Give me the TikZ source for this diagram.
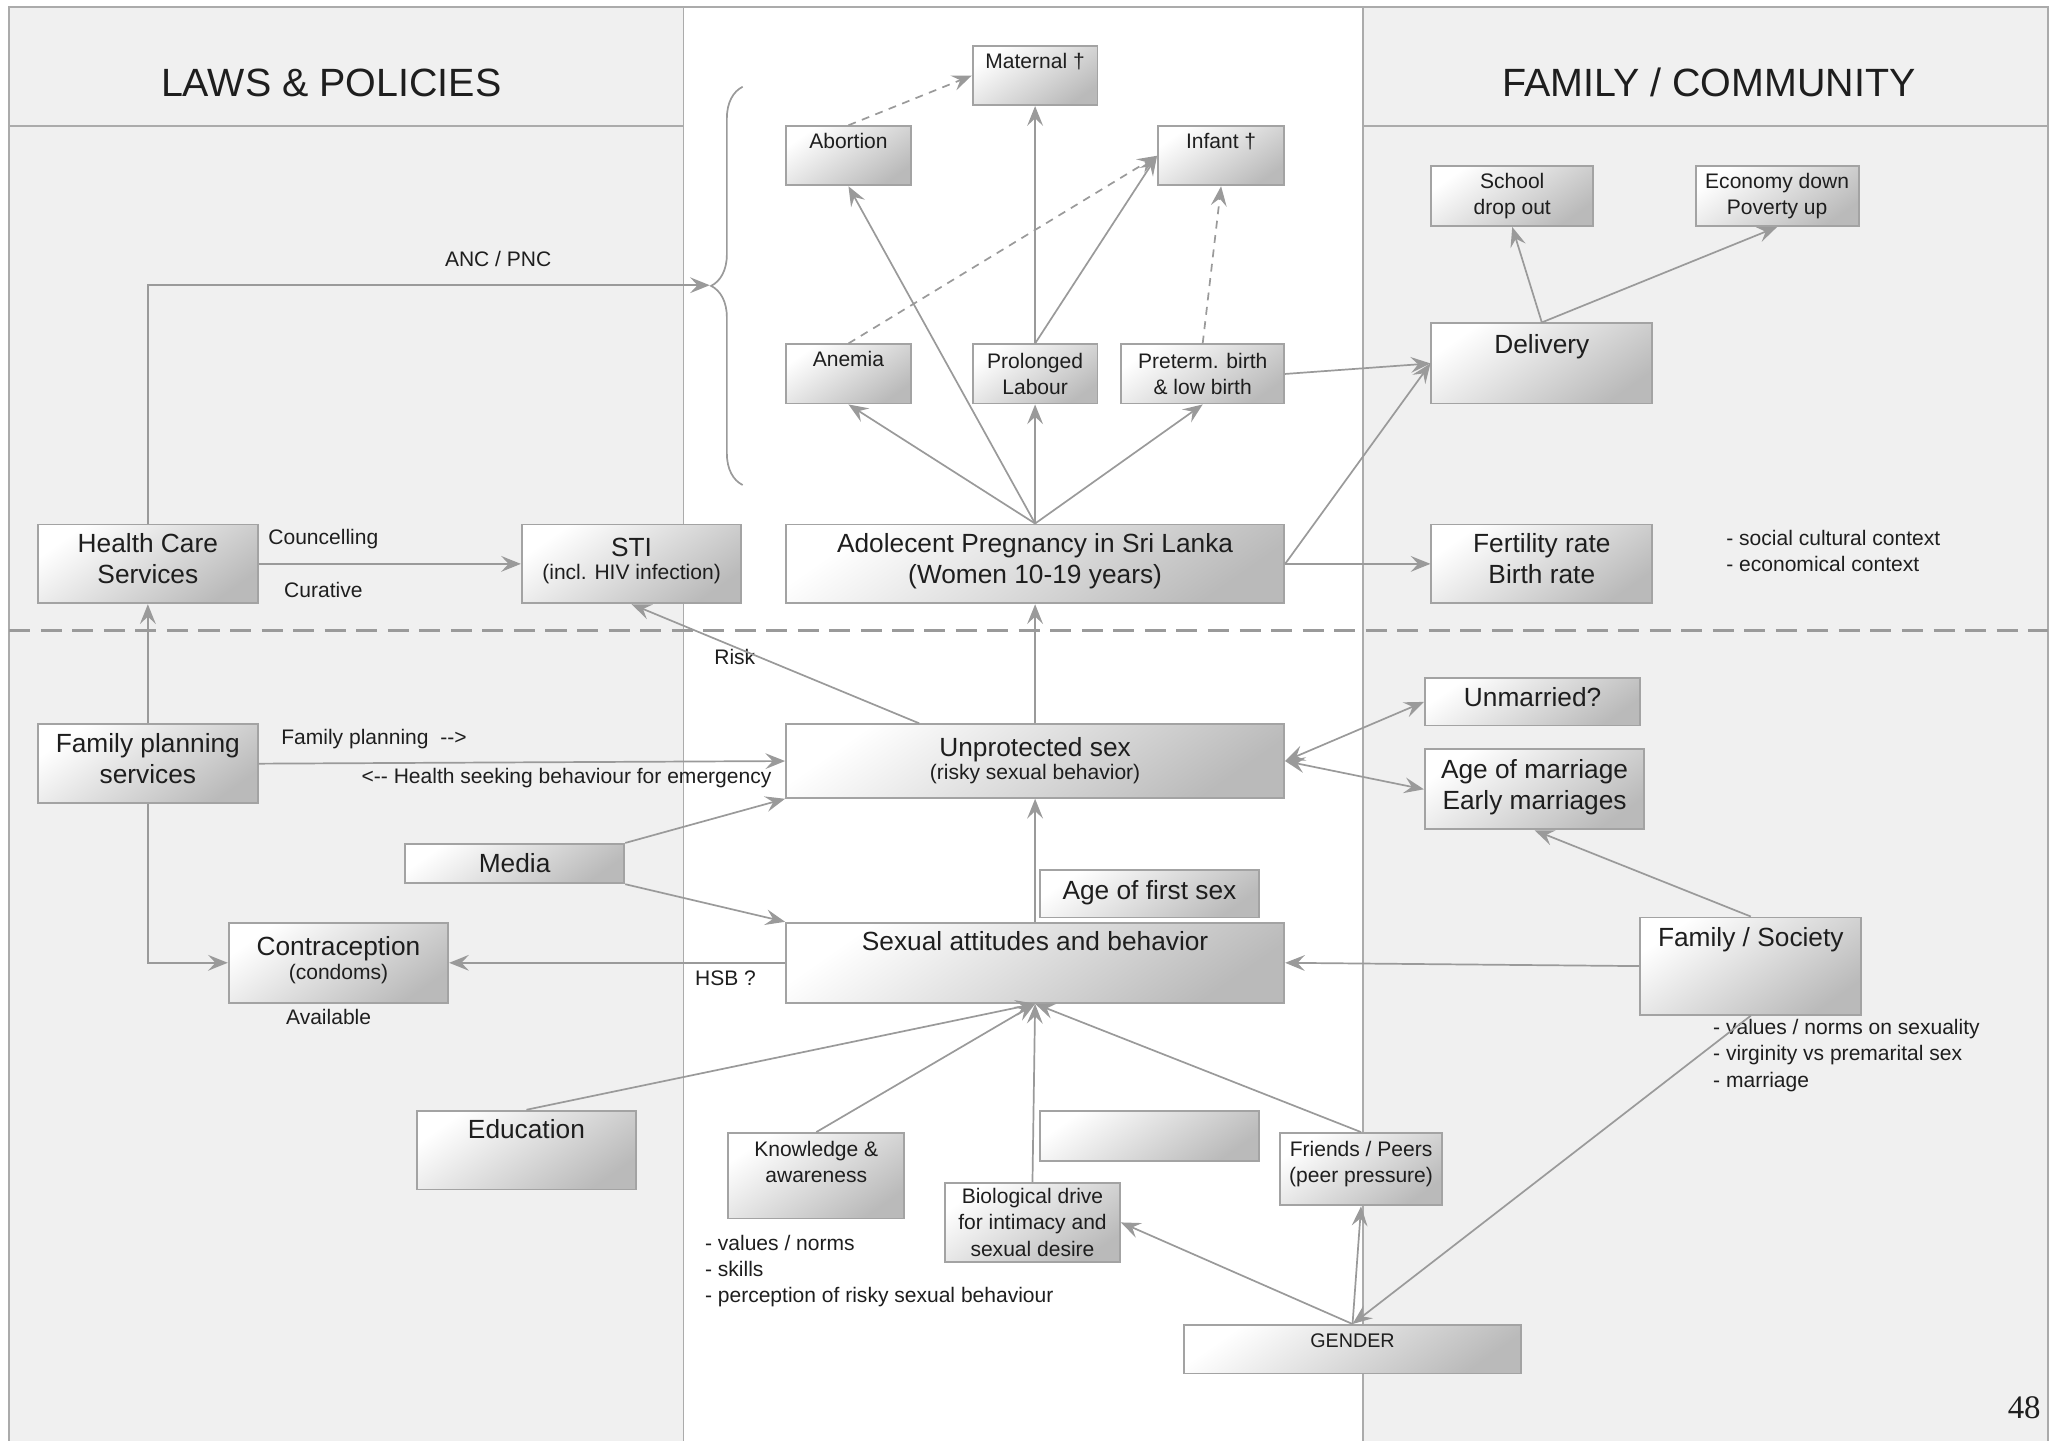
\documentclass[tikz,border=0pt]{standalone}
\usepackage{fontspec}
\setmainfont{Liberation Sans}
\newfontfamily\pagenofont{Liberation Serif}
\usetikzlibrary{arrows.meta,decorations.pathreplacing}

\definecolor{lineg}{HTML}{9A9A9A}
\definecolor{boxline}{HTML}{A3A3A3}
\definecolor{colbg}{HTML}{F0F0F0}
\definecolor{framec}{HTML}{ABABAB}
\definecolor{txt}{HTML}{1E1E1E}
\newcommand\smalltxt{\fontsize{8}{10}\selectfont}
\newcommand\bigtxt{\fontsize{10}{12}\selectfont}
\newcommand\dsh{-\kern0pt-}

\begin{document}
\begin{tikzpicture}[x=0.5pt, y=-0.5pt, text=txt,
    box node/.style={draw=boxline, line width=0.7pt, top color=white,
                     bottom color=black!27, shading angle=35, inner sep=2pt,
                     align=center, font=\bigtxt},
    small box/.style={box node, font=\smalltxt},
    top small/.style={small box, text height=6.6pt, text depth=11.9pt},
    note/.style={font=\smalltxt, align=left, inner sep=0pt},
    title/.style={font=\fontsize{15}{18}\selectfont},
    arr/.style={color=lineg, line width=0.65pt,
                -{Stealth[length=7.5pt,width=6pt,inset=2.8pt]}},
    dblarr/.style={color=lineg, line width=0.65pt,
                {Stealth[length=7.5pt,width=6pt,inset=2.8pt]}-{Stealth[length=7.5pt,width=6pt,inset=2.8pt]}},
    dasharr/.style={arr, dash pattern=on 3pt off 2.5pt}]

  \useasboundingbox (0,0) rectangle (1568,1096);

  % columns
  \fill[colbg] (7,5) rectangle (520,1096);
  \fill[colbg] (1037,5) rectangle (1558,1096);
  \draw[framec, line width=0.75pt] (7,1096) -- (7,5) -- (1558,5) -- (1558,1096);
  \draw[framec, line width=0.75pt] (520,5) -- (520,1096) (1037,5) -- (1037,1096);
  \draw[framec, line width=0.75pt] (7,96) -- (520,96) (1037,96) -- (1558,96);
  \draw[lineg, line width=1.1pt, dash pattern=on 8pt off 4pt] (7,480) -- (1558,480);

  \node[title] (laws) at (252,63) {LAWS \& POLICIES};
  \node[title] (family) at (1300,63) {FAMILY / COMMUNITY};

  % outcomes
  \node[top small, minimum width=47.5pt] (maternal) at (787.5,57.5) {Maternal †};
  \node[top small, minimum width=47.5pt] (abortion) at (645.5,118.5) {Abortion};
  \node[top small, minimum width=48pt] (infant) at (929,118.5) {Infant †};
  \node[top small, minimum width=47.5pt] (anemia) at (645.5,284.5) {Anemia};
  \node[small box, minimum width=47.5pt, minimum height=22.5pt] (prolonged) at (787.5,284.5) {Prolonged\\Labour};
  \node[small box, minimum width=62pt, minimum height=22.5pt] (preterm) at (915,284.5) {Preterm. birth\\\& low birth};
  \node[small box, minimum width=61.5pt, minimum height=23pt] (school) at (1150.5,149) {School\\drop out};
  \node[small box, minimum width=62pt, minimum height=23pt] (economy) at (1352,149) {Economy down\\Poverty up};
  \node[box node, minimum width=84pt, text height=9.6pt, text depth=16.9pt] (delivery) at (1173,276.5) {Delivery};

  \node[box node, minimum width=83.5pt, text height=20.6pt, text depth=5.4pt] (hcs) at (112.5,429) {Health Care\\Services};
  \node[box node, minimum width=83.5pt, text height=19.1pt, text depth=6.9pt] (sti) at (480.5,429) {STI\\[-3pt]\smalltxt (incl. HIV infection)};
  \node[box node, minimum width=189.5pt, text height=20.6pt, text depth=5.4pt] (adol) at (787.5,429) {Adolecent Pregnancy in Sri Lanka\\(Women 10-19 years)};
  \node[box node, minimum width=84pt, text height=20.6pt, text depth=5.4pt] (fertility) at (1173,429) {Fertility rate\\Birth rate};

  % causes
  \node[box node, minimum width=82pt, text height=8.6pt, text depth=5.4pt] (unmarried) at (1166,534) {Unmarried?};
  \node[box node, minimum width=83.5pt, text height=21.1pt, text depth=5.4pt] (agemar) at (1167.5,600.5) {Age of marriage\\Early marriages};
  \node[box node, minimum width=83.5pt, text height=20.6pt, text depth=5.4pt] (fps) at (112.5,581) {Family planning\\services};
  \node[box node, minimum width=189.5pt, text height=19.1pt, text depth=4.9pt] (unprot) at (787.5,579) {Unprotected sex\\[-3pt]\smalltxt (risky sexual behavior)};
  \node[box node, minimum width=83.5pt, minimum height=15pt] (media) at (391.5,657) {Media};
  \node[box node, minimum width=83.5pt, text height=9.1pt, text depth=4.9pt] (agefirst) at (874.5,680) {Age of first sex};
  \node[box node, minimum width=83.5pt, text height=19.6pt, text depth=6.9pt] (contra) at (257.5,732.5) {Contraception\\[-3pt]\smalltxt (condoms)};
  \node[box node, minimum width=189.5pt, text height=8.6pt, text depth=17.9pt] (sexatt) at (787.5,732.5) {Sexual attitudes and behavior};
  \node[box node, minimum width=84pt, text height=9.1pt, text depth=23.9pt] (famsoc) at (1332,735) {Family / Society};
  \node[box node, minimum width=83.5pt, text height=8.6pt, text depth=17.4pt] (education) at (400.5,875) {Education};
  \node[small box, minimum width=67pt, text height=16.9pt, text depth=11.6pt] (knowledge) at (621,894.5) {Knowledge \&\\awareness};
  \node[box node, minimum width=83.5pt, minimum height=19pt] (blank) at (874.5,864) {};
  \node[small box, minimum width=66.5pt, minimum height=30pt] (bio) at (785.5,930) {Biological drive\\for intimacy and\\sexual desire};
  \node[small box, minimum width=61.5pt, text height=16.9pt, text depth=6.6pt] (friends) at (1035.5,889.5) {Friends / Peers\\(peer pressure)};
  \node[small box, font=\fontsize{7.5}{9}\selectfont, minimum width=128pt, text height=6.7pt, text depth=7.8pt] (gender) at (1029,1026.5) {GENDER};

  % texts
  \node[note] (ancpnc) at (379,197) {ANC / PNC};
  \node[note] (councel) at (246,410) {Councelling};
  \node[note] (curative) at (246,449) {Curative};
  \node[note] (risk) at (559,500) {Risk};
  \node[note] (fpforward) at (284.5,562) {Family planning\ \ \dsh>};
  \node[note] (fpback) at (431,592) {<\dsh{} Health seeking behaviour for emergency};
  \node[note] (hsb) at (552,744) {HSB ?};
  \node[note] (avail) at (250,774) {Available};
  \node[note, anchor=north west] (ctxnote) at (1313,403) {- social cultural context\\- economical context};
  \node[note, anchor=north west] (famnote) at (1303,775) {- values / norms on sexuality\\- virginity vs premarital sex\\- marriage};
  \node[note, anchor=north west] (knownote) at (536,939) {- values / norms\\- skills\\- perception of risky sexual behaviour};
  \node[font=\pagenofont\fontsize{12.5}{15}\selectfont] (pageno) at (1540,1071) {48};

  % brace and care services
  \draw[lineg, line width=0.65pt, decorate, decoration={brace, amplitude=12pt}] (565,369) -- (565,66);
  \coordinate (anc) at (540,217);
  \draw[arr] (hcs.north) |- (anc);
  \draw[arr] (fps.south) |- (contra.west);

  \path[arr]
    (adol.north) edge (abortion.south)
    (adol.north) edge (anemia.south)
    (adol.north) edge (prolonged.south)
    (adol.north) edge (preterm.south)
    (prolonged.north) edge (maternal.south)
    (prolonged.north) edge (infant.west)
    (preterm.east) edge (delivery.west)
    (adol.east) edge (delivery.west)
    (adol.east) edge (fertility.west)
    (delivery.north) edge (school.south)
    (delivery.north) edge (economy.south)
    (hcs.east) edge (sti.west)
    (fps.north) edge (hcs.south)
    ([xshift=51pt]unprot.north west) edge (sti.south)
    (unprot.north) edge (adol.south)
    (fps.east) edge (unprot.west)
    (media.north east) edge (unprot.south west)
    (media.south east) edge (sexatt.north west)
    (sexatt.west) edge (contra.east)
    (sexatt.north) edge (unprot.south)
    (famsoc.north) edge (agemar.south)
    (famsoc.west) edge (sexatt.east)
    (education.north) edge (sexatt.south)
    (knowledge.north) edge (sexatt.south)
    (bio.north) edge (sexatt.south)
    (friends.north) edge (sexatt.south)
    (gender.north) edge (bio.east)
    (gender.north) edge (friends.south)
    (famsoc.south) edge (gender.north);

  \path[dblarr]
    (unprot.east) edge (unmarried.west)
    (unprot.east) edge (agemar.west);

  \path[dasharr]
    (abortion.north) edge (maternal.west)
    (anemia.north) edge (infant.west)
    (preterm.north) edge (infant.south);
\end{tikzpicture}
\end{document}
